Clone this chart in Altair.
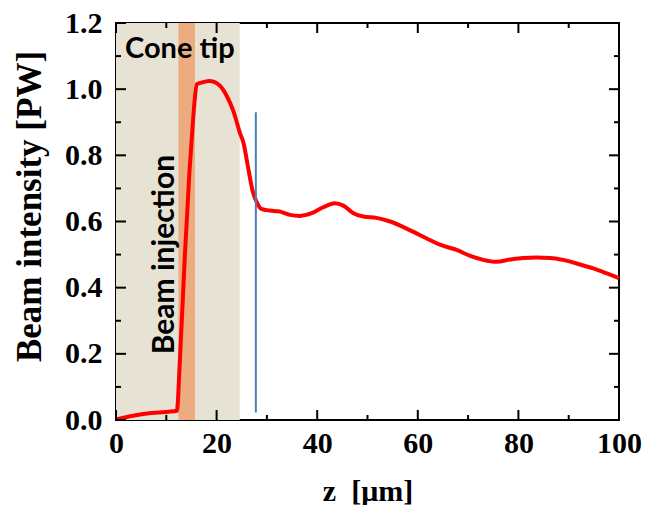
import altair as alt
import pandas as pd

# ---- data ----
z_vals = [0, 3.4, 7, 12.1, 12.7, 13.7, 14.6, 15.2, 15.6, 16.1, 17, 18.5, 19.5, 20.7, 22.0, 23.3,
          24.7, 25.3, 26.3, 27.2, 28.0, 28.9, 30.6, 32.3, 34.6, 36.6, 38.9, 41.2, 43.5, 45.2,
          47.2, 49.2, 51.8, 54.5, 58.4, 62.4, 64.4, 67.7, 70.3, 73.0, 75.7, 78.3, 80.9, 83.6,
          86.3, 88.9, 91.6, 94.9, 97.6, 100]
intensity = [0.002, 0.013, 0.021, 0.028, 0.18, 0.50, 0.75, 0.88, 0.96, 1.015, 1.02, 1.025, 1.022,
             1.01, 0.98, 0.935, 0.865, 0.84, 0.76, 0.69, 0.658, 0.638, 0.633, 0.631, 0.620, 0.617,
             0.625, 0.643, 0.655, 0.648, 0.625, 0.615, 0.611, 0.600, 0.574, 0.544, 0.530, 0.514,
             0.497, 0.484, 0.478, 0.485, 0.490, 0.491, 0.490, 0.484, 0.473, 0.458, 0.443, 0.429]

cone_region = [0, 24.6]
inject_region = [12.4, 15.7]
marker_z = [27.8]
marker_range = [0.023, 0.93]

x_major = [0, 20, 40, 60, 80, 100]
x_minor = [10, 30, 50, 70, 90]
y_major = [0.0, 0.2, 0.4, 0.6, 0.8, 1.0, 1.2]
y_minor = [0.1, 0.3, 0.5, 0.7, 0.9, 1.1]

labels_text = ["Cone tip", "Beam injection"]
labels_z = [1.8, 9.7]
labels_y = [1.122, 0.50]

W, H = 503, 397
SERIF = "Liberation Serif"
SANS = "Lato"

xs = alt.Scale(domain=[0, 100], nice=False, zero=False)
ys = alt.Scale(domain=[0, 1.2], nice=False, zero=False)

curve = pd.DataFrame({"z": z_vals, "p": intensity})

x_axis = alt.Axis(values=x_major, format="d", labelFont=SERIF, labelFontWeight="bold",
                  labelFontSize=30, labelColor="black", ticks=False, domain=False, grid=False,
                  labelFlush=False, labelOverlap=False,
                  labelPadding=8, title="z\u00a0 [\u03bcm]", titleFont=SERIF,
                  titleFontWeight="bold", titleFontSize=30, titleColor="black",
                  titleBaseline="alphabetic", titleY=80)
y_axis = alt.Axis(values=y_major, format=".1f", labelFont=SERIF, labelFontWeight="bold",
                  labelFontSize=30, labelColor="black", ticks=False, domain=False, grid=False,
                  labelFlush=False, labelOverlap=False,
                  labelPadding=14, title="Beam intensity [PW]", titleFont=SERIF,
                  titleFontWeight="bold", titleFontSize=35, titleColor="black",
                  titleAngle=270, titleAlign="center", titleBaseline="middle",
                  titleX=-87, titleY=183)

bg = alt.Chart(pd.DataFrame({"a": [cone_region[0]], "b": [cone_region[1]],
                             "lo": [0.0], "hi": [1.2]})).mark_rect(
    color="#e7e3d4", opacity=1).encode(
    x=alt.X("a:Q", scale=xs, axis=x_axis), x2="b:Q",
    y=alt.Y("lo:Q", scale=ys, axis=y_axis), y2="hi:Q")

inj = alt.Chart(pd.DataFrame({"a": [inject_region[0]], "b": [inject_region[1]],
                              "lo": [0.0], "hi": [1.2]})).mark_rect(
    color="#edac80", opacity=1).encode(
    x=alt.X("a:Q", scale=xs), x2="b:Q", y=alt.Y("lo:Q", scale=ys), y2="hi:Q")

line = alt.Chart(curve).mark_line(color="#ff0000", strokeWidth=4,
                                  interpolate="monotone").encode(
    x=alt.X("z:Q", scale=xs), y=alt.Y("p:Q", scale=ys))

marker = alt.Chart(pd.DataFrame({"z": marker_z, "lo": [marker_range[0]],
                                 "hi": [marker_range[1]]})).mark_rule(
    color="#4a7ebb", strokeWidth=2).encode(
    x=alt.X("z:Q", scale=xs), y=alt.Y("lo:Q", scale=ys), y2="hi:Q")

txt_df = pd.DataFrame({"t": labels_text, "z": labels_z, "y": labels_y})
cone_txt = alt.Chart(txt_df.iloc[[0]]).mark_text(
    font=SANS, fontWeight="bold", fontSize=29, align="left", baseline="middle",
    color="black").encode(x=alt.X("z:Q", scale=xs), y=alt.Y("y:Q", scale=ys), text="t:N")
inj_txt = alt.Chart(txt_df.iloc[[1]]).mark_text(
    font=SANS, fontWeight="bold", fontSize=30, align="center", baseline="middle",
    angle=270, color="black").encode(x=alt.X("z:Q", scale=xs), y=alt.Y("y:Q", scale=ys),
                                     text="t:N")


def xticks(vals, y0, y1):
    return alt.Chart(pd.DataFrame({"v": vals})).mark_rule(
        color="black", strokeWidth=2).encode(
        x=alt.X("v:Q", scale=xs), y=alt.value(y0), y2=alt.value(y1))


def yticks(vals, x0, x1):
    return alt.Chart(pd.DataFrame({"v": vals})).mark_rule(
        color="black", strokeWidth=2).encode(
        y=alt.Y("v:Q", scale=ys), x=alt.value(x0), x2=alt.value(x1))


ticks = [
    xticks(x_major, H, H - 10), xticks(x_minor, H, H - 5),
    xticks(x_major, 0, 10), xticks(x_minor, 0, 5),
    yticks(y_major, 0, 10), yticks(y_minor, 0, 5),
    yticks(y_major, W, W - 10), yticks(y_minor, W, W - 5),
]

chart = alt.layer(bg, inj, cone_txt, inj_txt, line, marker, *ticks).properties(
    width=W, height=H,
    autosize=alt.AutoSizeParams(type="none"),
    padding={"left": 116, "top": 23, "right": 27, "bottom": 85},
    background="white",
).configure_view(stroke="black", strokeWidth=2)

chart.save("out.html", embed_options={"renderer": "svg", "actions": False})
